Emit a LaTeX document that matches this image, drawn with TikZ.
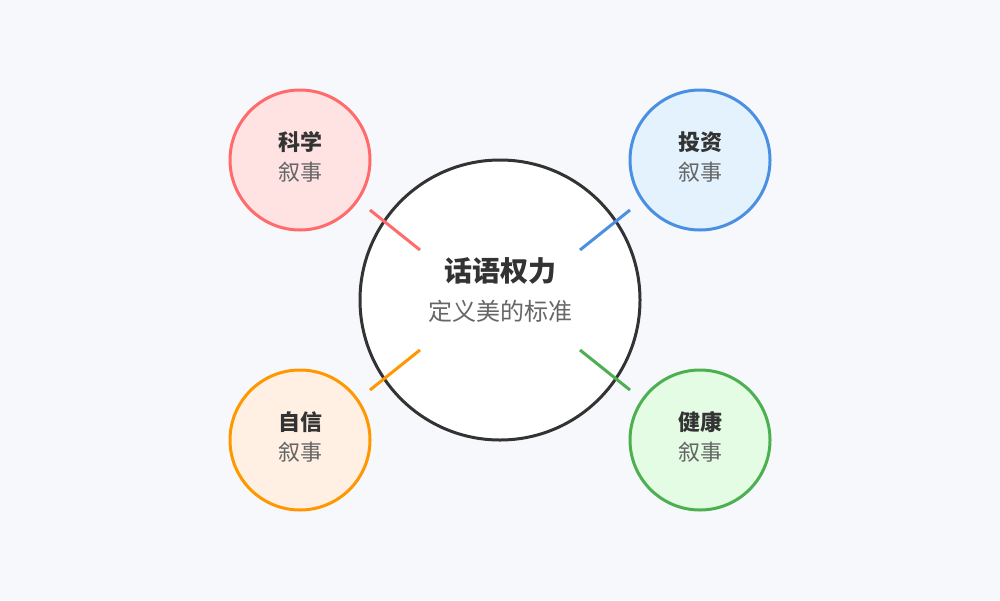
\documentclass[tikz,border=0pt]{standalone}
\usepackage{fontspec}
\setmainfont{Noto Sans CJK SC}
\definecolor{bg}{HTML}{F7F8FC}
\definecolor{dark}{HTML}{333333}
\definecolor{grey}{HTML}{666666}
\definecolor{redS}{HTML}{FF6B6B}
\definecolor{redF}{HTML}{FFE3E3}
\definecolor{blueS}{HTML}{4A90E2}
\definecolor{blueF}{HTML}{E3F2FD}
\definecolor{orgS}{HTML}{FF9800}
\definecolor{orgF}{HTML}{FFF0E3}
\definecolor{grnS}{HTML}{4CAF50}
\definecolor{grnF}{HTML}{E3FCE3}
\tikzset{
  small/.style={circle, minimum size=140pt, inner sep=0pt, line width=3pt},
  ttl/.style={font=\bfseries\fontsize{22}{24}\selectfont, text=dark},
  sub/.style={font=\fontsize{22}{24}\selectfont, text=grey},
  link/.style={line width=3pt}
}
\begin{document}
\begin{tikzpicture}[x=1pt,y=-1pt]
\fill[bg] (0,0) rectangle (1000,600);
\useasboundingbox (0,0) rectangle (1000,600);
\node[circle, minimum size=280pt, inner sep=0pt, draw=dark, fill=white, line width=3pt] (c) at (500,300) {};
\node[ttl, font=\bfseries\fontsize{28}{30}\selectfont] (ct) at (500,271) {话语权力};
\node[sub, font=\fontsize{24}{26}\selectfont] (cs) at (500,311) {定义美的标准};

\node[small, draw=redS, fill=redF] (a) at (300,160) {};
\node[ttl] at (300,142) {科学};
\node[sub] at (300,172) {叙事};
\node[small, draw=blueS, fill=blueF] (b) at (700,160) {};
\node[ttl] at (700,142) {投资};
\node[sub] at (700,172) {叙事};
\node[small, draw=orgS, fill=orgF] (d) at (300,440) {};
\node[ttl] at (300,422) {自信};
\node[sub] at (300,452) {叙事};
\node[small, draw=grnS, fill=grnF] (e) at (700,440) {};
\node[ttl] at (700,422) {健康};
\node[sub] at (700,452) {叙事};

\coordinate (a1) at (370,210); \coordinate (a2) at (420,250);
\coordinate (b1) at (630,210); \coordinate (b2) at (580,250);
\coordinate (d1) at (370,390); \coordinate (d2) at (420,350);
\coordinate (e1) at (630,390); \coordinate (e2) at (580,350);
\draw[link, redS] (a1) -- (a2);
\draw[link, blueS] (b1) -- (b2);
\draw[link, orgS] (d1) -- (d2);
\draw[link, grnS] (e1) -- (e2);
\end{tikzpicture}
\end{document}
